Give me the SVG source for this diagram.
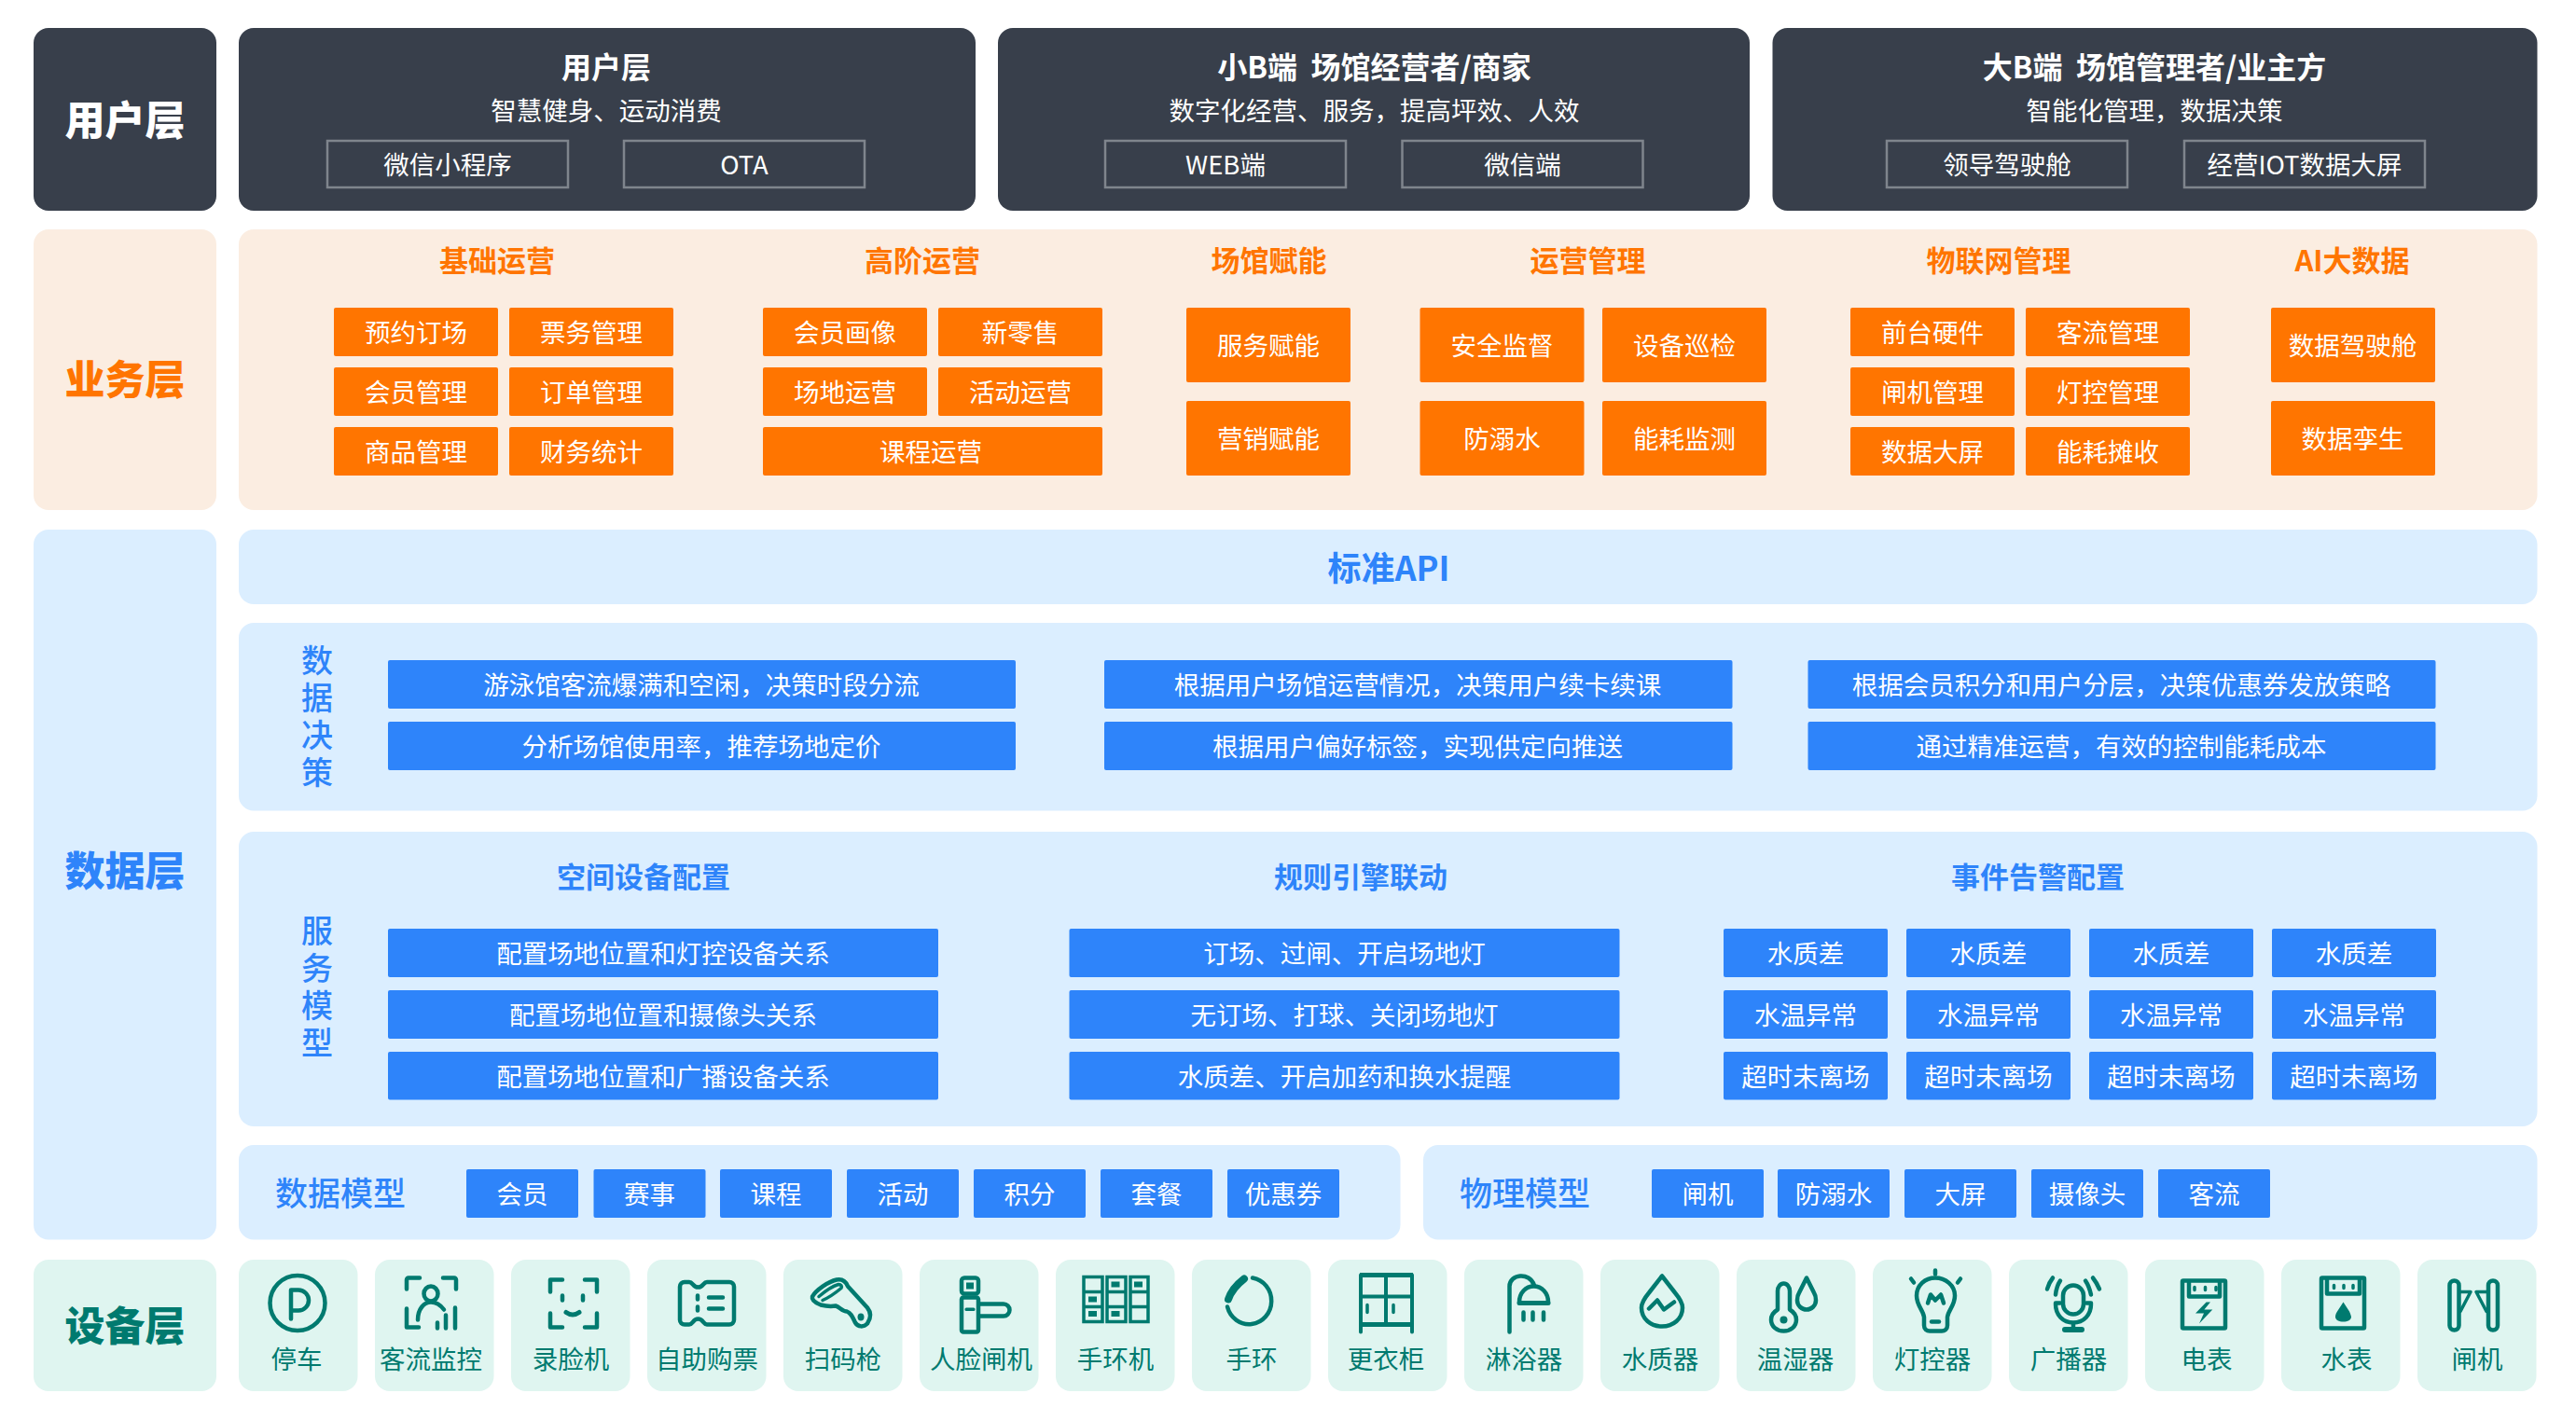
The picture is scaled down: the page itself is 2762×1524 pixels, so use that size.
<svg xmlns="http://www.w3.org/2000/svg" width="2762" height="1524" viewBox="0 0 2762 1524">
<style>
text{font-family:"Noto Sans CJK SC","Noto Sans",sans-serif;text-anchor:middle;dominant-baseline:central;font-size:27.500px}
text:not(.top):not(.ttl):not(.lbl):not(.side):not(.vert):not(.b){transform:translateY(-1.500px)}
.b{font-weight:700}
.lbl{font-size:43px;font-weight:900}
.ttl{font-size:31px;font-weight:700}
.top{font-size:32px;font-weight:700}
.w{fill:#fff}
.o{fill:#FF7500}
.bl{fill:#2E84FA}
.t{fill:#007A6F}
.dark{fill:#383F4B}
.pO{fill:#FBEDE1}
.pB{fill:#DBEEFF}
.pT{fill:#DFF5F0}
.ob{fill:#FF7500}
.bb{fill:#2E84FA}
.ub{fill:none;stroke:#7F858D;stroke-width:2.500}
.side{font-size:35px;font-weight:500}
.vert{font-size:34px;font-weight:500;writing-mode:vertical-rl;letter-spacing:6px}
.ic{fill:none;stroke:#007A6F;stroke-width:4.500;stroke-linecap:round;stroke-linejoin:round}
.icf{fill:#007A6F}
</style>
<rect width="2762" height="1524" fill="#fff"/>

<g id="user-layer">
<g id="user-label"><rect class="dark" x="36" y="30" width="196" height="196" rx="16"/><text class="lbl w" x="134" y="126">用户层</text></g>
<g id="user-c">
<rect class="dark" x="256" y="30" width="790" height="196" rx="16"/>
<text class="top w" x="650" y="70">用户层</text><text class="w" x="650" y="118">智慧健身、运动消费</text>
<rect class="ub" x="351" y="151" width="258" height="50"/><text class="w" x="480" y="176">微信小程序</text>
<rect class="ub" x="669" y="151" width="258" height="50"/><text class="w" x="798" y="176">OTA</text>
</g>
<g id="user-smallb">
<rect class="dark" x="1070" y="30" width="806" height="196" rx="16"/>
<text class="top w" x="1473.500" y="70" xml:space="preserve">小B端  场馆经营者/商家</text><text class="w" x="1473.500" y="118">数字化经营、服务，提高坪效、人效</text>
<rect class="ub" x="1185" y="151" width="258" height="50"/><text class="w" x="1314" y="176">WEB端</text>
<rect class="ub" x="1503.500" y="151" width="258" height="50"/><text class="w" x="1632.500" y="176">微信端</text>
</g>
<g id="user-bigb">
<rect class="dark" x="1900.500" y="30" width="820" height="196" rx="16"/>
<text class="top w" x="2310" y="70" xml:space="preserve">大B端  场馆管理者/业主方</text><text class="w" x="2310" y="118">智能化管理，数据决策</text>
<rect class="ub" x="2023" y="151" width="258" height="50"/><text class="w" x="2152" y="176">领导驾驶舱</text>
<rect class="ub" x="2342" y="151" width="258" height="50"/><text class="w" x="2471" y="176">经营IOT数据大屏</text>
</g>
</g>

<g id="business-layer">
<g id="biz-label"><rect class="pO" x="36" y="246" width="196" height="301" rx="16"/><text class="lbl o" x="134" y="404">业务层</text></g>
<rect class="pO" x="256" y="246" width="2464.500" height="301" rx="16"/>
<g id="biz-basic">
<text class="ttl o" x="533" y="277">基础运营</text>
<rect class="ob" x="358" y="330" width="176" height="52" rx="2"/><text class="w" x="446" y="356">预约订场</text>
<rect class="ob" x="546" y="330" width="176" height="52" rx="2"/><text class="w" x="634" y="356">票务管理</text>
<rect class="ob" x="358" y="394" width="176" height="52" rx="2"/><text class="w" x="446" y="420">会员管理</text>
<rect class="ob" x="546" y="394" width="176" height="52" rx="2"/><text class="w" x="634" y="420">订单管理</text>
<rect class="ob" x="358" y="458" width="176" height="52" rx="2"/><text class="w" x="446" y="484">商品管理</text>
<rect class="ob" x="546" y="458" width="176" height="52" rx="2"/><text class="w" x="634" y="484">财务统计</text>
</g>
<g id="biz-advanced">
<text class="ttl o" x="989" y="277">高阶运营</text>
<rect class="ob" x="818" y="330" width="176" height="52" rx="2"/><text class="w" x="906" y="356">会员画像</text>
<rect class="ob" x="1006" y="330" width="176" height="52" rx="2"/><text class="w" x="1094" y="356">新零售</text>
<rect class="ob" x="818" y="394" width="176" height="52" rx="2"/><text class="w" x="906" y="420">场地运营</text>
<rect class="ob" x="1006" y="394" width="176" height="52" rx="2"/><text class="w" x="1094" y="420">活动运营</text>
<rect class="ob" x="818" y="458" width="364" height="52" rx="2"/><text class="w" x="998" y="484">课程运营</text>
</g>
<g id="biz-venue">
<text class="ttl o" x="1360.500" y="277">场馆赋能</text>
<rect class="ob" x="1272" y="330" width="176" height="80" rx="2"/><text class="w" x="1360" y="370.500">服务赋能</text>
<rect class="ob" x="1272" y="430" width="176" height="80" rx="2"/><text class="w" x="1360" y="470">营销赋能</text>
</g>
<g id="biz-ops">
<text class="ttl o" x="1702.500" y="277">运营管理</text>
<rect class="ob" x="1522.500" y="330" width="176" height="80" rx="2"/><text class="w" x="1610.500" y="370.500">安全监督</text>
<rect class="ob" x="1718" y="330" width="176" height="80" rx="2"/><text class="w" x="1806" y="370.500">设备巡检</text>
<rect class="ob" x="1522.500" y="430" width="176" height="80" rx="2"/><text class="w" x="1610.500" y="470">防溺水</text>
<rect class="ob" x="1718" y="430" width="176" height="80" rx="2"/><text class="w" x="1806" y="470">能耗监测</text>
</g>
<g id="biz-iot">
<text class="ttl o" x="2143" y="277">物联网管理</text>
<rect class="ob" x="1984" y="330" width="176" height="52" rx="2"/><text class="w" x="2072" y="356">前台硬件</text>
<rect class="ob" x="2172" y="330" width="176" height="52" rx="2"/><text class="w" x="2260" y="356">客流管理</text>
<rect class="ob" x="1984" y="394" width="176" height="52" rx="2"/><text class="w" x="2072" y="420">闸机管理</text>
<rect class="ob" x="2172" y="394" width="176" height="52" rx="2"/><text class="w" x="2260" y="420">灯控管理</text>
<rect class="ob" x="1984" y="458" width="176" height="52" rx="2"/><text class="w" x="2072" y="484">数据大屏</text>
<rect class="ob" x="2172" y="458" width="176" height="52" rx="2"/><text class="w" x="2260" y="484">能耗摊收</text>
</g>
<g id="biz-ai">
<text class="ttl o" x="2522" y="277">AI大数据</text>
<rect class="ob" x="2435" y="330" width="176" height="80" rx="2"/><text class="w" x="2522.500" y="370.500">数据驾驶舱</text>
<rect class="ob" x="2435" y="430" width="176" height="80" rx="2"/><text class="w" x="2522.500" y="470">数据孪生</text>
</g>
</g>

<g id="data-layer">
<g id="data-label"><rect class="pB" x="36" y="568" width="196" height="761.500" rx="16"/><text class="lbl bl" x="134" y="931">数据层</text></g>
<g id="std-api"><rect class="pB" x="256" y="568" width="2464.500" height="80" rx="16"/><text class="bl b" style="font-size:36px" x="1489" y="607">标准API</text></g>
<g id="data-decision">
<rect class="pB" x="256" y="668" width="2464.500" height="201.500" rx="16"/>
<text class="vert bl" x="340" y="771">数据决策</text>
<rect class="bb" x="416" y="708" width="673" height="52" rx="2"/><text class="w" x="752" y="734">游泳馆客流爆满和空闲，决策时段分流</text>
<rect class="bb" x="416" y="774" width="673" height="52" rx="2"/><text class="w" x="752" y="800">分析场馆使用率，推荐场地定价</text>
<rect class="bb" x="1184" y="708" width="673.500" height="52" rx="2"/><text class="w" x="1520" y="734">根据用户场馆运营情况，决策用户续卡续课</text>
<rect class="bb" x="1184" y="774" width="673.500" height="52" rx="2"/><text class="w" x="1520" y="800">根据用户偏好标签，实现供定向推送</text>
<rect class="bb" x="1938.500" y="708" width="673" height="52" rx="2"/><text class="w" x="2274.500" y="734">根据会员积分和用户分层，决策优惠券发放策略</text>
<rect class="bb" x="1938.500" y="774" width="673" height="52" rx="2"/><text class="w" x="2274.500" y="800">通过精准运营，有效的控制能耗成本</text>
</g>
<g id="service-model">
<rect class="pB" x="256" y="892" width="2464.500" height="316" rx="16"/>
<text class="vert bl" x="340" y="1061">服务模型</text>
<text class="ttl bl" x="690" y="938">空间设备配置</text>
<rect class="bb" x="416" y="996" width="590" height="52" rx="2"/><text class="w" x="711" y="1022">配置场地位置和灯控设备关系</text>
<rect class="bb" x="416" y="1062" width="590" height="52" rx="2"/><text class="w" x="711" y="1088">配置场地位置和摄像头关系</text>
<rect class="bb" x="416" y="1128" width="590" height="51.500" rx="2"/><text class="w" x="711" y="1154">配置场地位置和广播设备关系</text>
<text class="ttl bl" x="1459" y="938">规则引擎联动</text>
<rect class="bb" x="1146.500" y="996" width="590" height="52" rx="2"/><text class="w" x="1441.500" y="1022">订场、过闸、开启场地灯</text>
<rect class="bb" x="1146.500" y="1062" width="590" height="52" rx="2"/><text class="w" x="1441.500" y="1088">无订场、打球、关闭场地灯</text>
<rect class="bb" x="1146.500" y="1128" width="590" height="51.500" rx="2"/><text class="w" x="1441.500" y="1154">水质差、开启加药和换水提醒</text>
<text class="ttl bl" x="2185" y="938">事件告警配置</text>
<rect class="bb" x="1848" y="996" width="176" height="52" rx="2"/><text class="w" x="1936" y="1022">水质差</text>
<rect class="bb" x="2044" y="996" width="176" height="52" rx="2"/><text class="w" x="2132" y="1022">水质差</text>
<rect class="bb" x="2240" y="996" width="176" height="52" rx="2"/><text class="w" x="2328" y="1022">水质差</text>
<rect class="bb" x="2436" y="996" width="176" height="52" rx="2"/><text class="w" x="2524" y="1022">水质差</text>
<rect class="bb" x="1848" y="1062" width="176" height="52" rx="2"/><text class="w" x="1936" y="1088">水温异常</text>
<rect class="bb" x="2044" y="1062" width="176" height="52" rx="2"/><text class="w" x="2132" y="1088">水温异常</text>
<rect class="bb" x="2240" y="1062" width="176" height="52" rx="2"/><text class="w" x="2328" y="1088">水温异常</text>
<rect class="bb" x="2436" y="1062" width="176" height="52" rx="2"/><text class="w" x="2524" y="1088">水温异常</text>
<rect class="bb" x="1848" y="1128" width="176" height="51.500" rx="2"/><text class="w" x="1936" y="1154">超时未离场</text>
<rect class="bb" x="2044" y="1128" width="176" height="51.500" rx="2"/><text class="w" x="2132" y="1154">超时未离场</text>
<rect class="bb" x="2240" y="1128" width="176" height="51.500" rx="2"/><text class="w" x="2328" y="1154">超时未离场</text>
<rect class="bb" x="2436" y="1128" width="176" height="51.500" rx="2"/><text class="w" x="2524" y="1154">超时未离场</text>
</g>
<g id="data-model">
<rect class="pB" x="256" y="1228" width="1245.500" height="101.500" rx="16"/>
<text class="side bl" x="365" y="1277">数据模型</text>
<rect class="bb" x="500" y="1254" width="120" height="52" rx="2"/><text class="w" x="560" y="1280">会员</text>
<rect class="bb" x="636.500" y="1254" width="120" height="52" rx="2"/><text class="w" x="696.500" y="1280">赛事</text>
<rect class="bb" x="772" y="1254" width="120" height="52" rx="2"/><text class="w" x="832" y="1280">课程</text>
<rect class="bb" x="908" y="1254" width="120" height="52" rx="2"/><text class="w" x="968" y="1280">活动</text>
<rect class="bb" x="1044" y="1254" width="120" height="52" rx="2"/><text class="w" x="1104" y="1280">积分</text>
<rect class="bb" x="1180" y="1254" width="120" height="52" rx="2"/><text class="w" x="1240" y="1280">套餐</text>
<rect class="bb" x="1316" y="1254" width="120" height="52" rx="2"/><text class="w" x="1376" y="1280">优惠券</text>
</g>
<g id="physical-model">
<rect class="pB" x="1526" y="1228" width="1194.500" height="101.500" rx="16"/>
<text class="side bl" x="1635" y="1277">物理模型</text>
<rect class="bb" x="1771" y="1254" width="120" height="52" rx="2"/><text class="w" x="1831" y="1280">闸机</text>
<rect class="bb" x="1906" y="1254" width="120" height="52" rx="2"/><text class="w" x="1966" y="1280">防溺水</text>
<rect class="bb" x="2042" y="1254" width="120" height="52" rx="2"/><text class="w" x="2102" y="1280">大屏</text>
<rect class="bb" x="2178" y="1254" width="120" height="52" rx="2"/><text class="w" x="2238" y="1280">摄像头</text>
<rect class="bb" x="2314" y="1254" width="120" height="52" rx="2"/><text class="w" x="2374" y="1280">客流</text>
</g>
</g>

<g id="device-layer">
<g id="dev-label"><rect class="pT" x="36" y="1351" width="196" height="141" rx="16"/><text class="lbl t" x="134" y="1419">设备层</text></g>

<g id="dev-parking"><rect class="pT" x="256" y="1351" width="127.500" height="141" rx="16"/>
<g transform="translate(1 -1.500)"><circle class="ic" cx="318" cy="1399" r="29.500"/><path class="ic" d="M311 1416V1385h8a11 11 0 0 1 0 22h-8"/></g>
<text class="t" x="318" y="1457.500">停车</text></g>

<g id="dev-flow"><rect class="pT" x="402" y="1351" width="127.500" height="141" rx="16"/>
<g transform="translate(0 -1.500)"><path class="ic" d="M436 1384v-10a2 2 0 0 1 2-2h12M475 1372h12a2 2 0 0 1 2 2v10M436 1405v20h13M469 1420v6M478 1412v14M488 1404v22"/>
<ellipse class="ic" cx="462" cy="1389" rx="7.500" ry="8"/><path class="ic" d="M448 1417C448 1405 455 1398 462 1398C468 1398 473 1402 476 1406"/></g>
<text class="t" x="462" y="1457.500">客流监控</text></g>

<g id="dev-face"><rect class="pT" x="548" y="1351" width="127.500" height="141" rx="16"/>
<g transform="translate(0 -1.500)"><path class="ic" stroke-linecap="square" d="M603 1374H590V1387M627 1374H640V1387M590 1410V1425H603M640 1410V1425H627"/>
<path class="ic" d="M603 1391v5M625 1391v5"/><path class="ic" style="stroke-width:5" d="M607 1409Q614 1414 621 1409"/></g>
<text class="t" x="612" y="1457.500">录脸机</text></g>

<g id="dev-ticket"><rect class="pT" x="694" y="1351" width="127.500" height="141" rx="16"/>
<g transform="translate(0 -1.500)"><path class="ic" d="M734 1376.500H739C743 1376.500 743 1382 748.500 1382C754 1382 754 1376.500 758 1376.500H782a5 5 0 0 1 5 5V1417a5 5 0 0 1-5 5H758C754 1422 754 1416 748.500 1416C743 1416 743 1422 739 1422H734a5 5 0 0 1-5-5V1381.500a5 5 0 0 1 5-5Z"/>
<path class="ic" d="M748 1391v4M748 1403v4M760 1393h15M760 1405h15"/></g>
<text class="t" x="758" y="1457.500">自助购票</text></g>

<g id="dev-scanner"><rect class="pT" x="840" y="1351" width="127.500" height="141" rx="16"/>
<g transform="translate(0 -1.500)"><path class="ic" d="M871 1392C875 1385 888 1376 897 1374C903 1373 907 1376 909 1381L930 1404C934 1409 934 1415 930 1421C926 1425 920 1425 917 1420C914 1414 913 1410 908 1408C903 1408 900 1403 896 1402C890 1403 884 1402 880 1401C875 1399 870 1396 871 1392Z"/>
<path class="ic" style="stroke-width:3.500" d="M878 1392C885 1386 892 1381 899 1379C902 1379 903 1381 902 1383C896 1388 889 1393 882 1396"/>
<ellipse class="icf" cx="923" cy="1414" rx="3.500" ry="4"/></g>
<text class="t" x="904" y="1457.500">扫码枪</text></g>

<g id="dev-facegate"><rect class="pT" x="986" y="1351" width="127.500" height="141" rx="16"/>
<g transform="translate(0 -1.500)"><rect class="ic" x="1031" y="1372" width="18" height="17" rx="3"/><rect class="icf" x="1036" y="1377" width="8" height="7"/>
<rect class="ic" x="1031" y="1393" width="18" height="37" rx="2"/><rect class="icf" x="1034.500" y="1404" width="11" height="3.500" rx="1.500"/>
<path class="ic" d="M1050 1400H1076a6.500 6.500 0 0 1 0 13H1050"/></g>
<text class="t" x="1052" y="1457.500">人脸闸机</text></g>

<g id="dev-bandmachine"><rect class="pT" x="1132" y="1351" width="127.500" height="141" rx="16"/>
<g transform="translate(0 -1.500)"><path class="ic" style="stroke-width:3.500;stroke-linecap:square;stroke-linejoin:miter" d="M1162 1371H1182V1419H1162ZM1187 1371H1207V1419H1187ZM1212 1371H1231V1419H1212ZM1162 1387H1182M1162 1403H1182M1187 1387H1207M1187 1403H1207M1212 1387H1231M1212 1403H1231"/>
<rect class="icf" x="1167" y="1392" width="9" height="6"/><rect class="icf" x="1167" y="1407.500" width="9" height="6"/><rect class="icf" x="1191.500" y="1376" width="9" height="6"/><rect class="icf" x="1191.500" y="1407.500" width="9" height="6"/><rect class="icf" x="1216" y="1376" width="9" height="6"/></g>
<text class="t" x="1196" y="1457.500">手环机</text></g>

<g id="dev-band"><rect class="pT" x="1278" y="1351" width="127.500" height="141" rx="16"/>
<g transform="translate(0 -1.500)"><path class="ic" d="M1343 1372A24 25 0 1 1 1316 1403"/><path class="ic" style="stroke-width:8" d="M1334 1373Q1321 1383 1317 1395"/></g>
<text class="t" x="1342" y="1457.500">手环</text></g>

<g id="dev-locker"><rect class="pT" x="1424" y="1351" width="127.500" height="141" rx="16"/>
<g transform="translate(0 -1.500)"><path class="ic" style="stroke-width:4" d="M1459 1430V1369H1514V1430M1486 1369V1422M1459 1392H1514"/><path class="ic" style="stroke-linecap:butt;stroke-width:5" d="M1458 1369H1515M1458 1422H1515"/>
<path class="ic" style="stroke-width:3.500" d="M1466 1401v8M1494 1401v8"/></g>
<text class="t" x="1486" y="1457.500">更衣柜</text></g>

<g id="dev-shower"><rect class="pT" x="1570" y="1351" width="127.500" height="141" rx="16"/>
<g transform="translate(0 -1.500)"><path class="ic" d="M1618.500 1430V1381C1618.500 1368 1640 1365 1645 1380"/><path class="ic" d="M1629 1398C1629 1388 1636 1381 1644.500 1381C1653 1381 1660 1388 1660 1398"/><path class="ic" style="stroke-width:5" d="M1629 1399H1660"/>
<path class="ic" d="M1633.500 1409v8M1643.500 1409v8M1655 1409v8"/></g>
<text class="t" x="1634" y="1457.500">淋浴器</text></g>

<g id="dev-waterquality"><rect class="pT" x="1716" y="1351" width="127.500" height="141" rx="16"/>
<g transform="translate(0 -1.500)"><path class="ic" d="M1782 1370L1768 1388C1763 1394 1760 1399 1760 1404C1760 1416 1770 1424 1782 1424C1794 1424 1804 1416 1804 1404C1804 1399 1801 1394 1796 1388Z"/>
<path class="ic" d="M1768 1405L1777 1396L1784 1406L1795 1398"/></g>
<text class="t" x="1780" y="1457.500">水质器</text></g>

<g id="dev-humid"><rect class="pT" x="1862" y="1351" width="127.500" height="141" rx="16"/>
<g transform="translate(0 -1.500)"><path class="ic" d="M1906 1406V1386a6.500 8 0 0 1 13 0V1406C1924 1409 1926 1413 1926 1417C1926 1424 1920 1429 1912.500 1429C1905 1429 1899 1424 1899 1417C1899 1413 1901 1409 1906 1406Z"/><circle class="icf" cx="1912.500" cy="1417" r="4"/>
<path class="ic" d="M1937 1372L1929 1388C1927 1391 1927 1394 1927 1396C1927 1402 1932 1406 1937 1406C1942 1406 1947 1402 1947 1396C1947 1394 1947 1391 1945 1388Z"/></g>
<text class="t" x="1925" y="1457.500">温湿器</text></g>

<g id="dev-light"><rect class="pT" x="2008" y="1351" width="127.500" height="141" rx="16"/>
<g transform="translate(0 -1.500)"><path class="ic" d="M2063 1414C2062 1406 2055 1402 2055 1391C2055 1380 2064 1372 2075 1372C2086 1372 2096 1380 2096 1391C2096 1402 2089 1406 2088 1414V1423C2088 1427 2085 1429 2082 1429H2069C2066 1429 2063 1427 2063 1423Z"/>
<path class="ic" d="M2067 1399L2070 1390L2075 1396L2081 1390L2084 1399"/><path class="ic" d="M2071 1419H2079"/><path class="ic" d="M2075 1364v4M2049 1373l3 4M2102 1373l-3 4"/></g>
<text class="t" x="2072" y="1457.500">灯控器</text></g>

<g id="dev-speaker"><rect class="pT" x="2154" y="1351" width="127.500" height="141" rx="16"/>
<g transform="translate(0 -1.500)"><rect class="ic" x="2212" y="1380" width="22" height="31" rx="11"/>
<path class="ic" d="M2204 1400C2204 1412 2212 1420 2223 1420C2234 1420 2242 1412 2242 1400M2204 1399H2209M2242 1399H2237M2223 1420V1427"/><path class="ic" style="stroke-width:6" d="M2214 1427.500H2232"/>
<path class="ic" d="M2209 1375Q2205 1381 2204 1390M2201 1372Q2197 1377 2195 1384M2236 1375Q2240 1381 2242 1390M2244 1372Q2248 1377 2251 1384"/></g>
<text class="t" x="2218" y="1457.500">广播器</text></g>

<g id="dev-power"><rect class="pT" x="2300" y="1351" width="127.500" height="141" rx="16"/>
<g transform="translate(0 -1.500)"><rect class="ic" x="2340" y="1375" width="46" height="51" rx="1"/><path class="ic" d="M2347 1376V1392H2380V1376"/><path class="ic" style="stroke-width:3.500" d="M2353 1382v3M2364.500 1382v3M2376 1382v3"/>
<polygon class="icf" points="2365.600,1398 2354,1410 2363,1410 2358,1421 2372.300,1406 2363.400,1406 2370,1398"/></g>
<text class="t" x="2366" y="1457.500">电表</text></g>

<g id="dev-watermeter"><rect class="pT" x="2446" y="1351" width="127.500" height="141" rx="16"/>
<g transform="translate(0 -1.500)"><rect class="ic" x="2489" y="1372" width="46" height="54" rx="1"/><path class="ic" d="M2495 1373V1389H2530V1373"/><path class="ic" style="stroke-width:3.500" d="M2502.500 1380v3M2513 1380v3M2523 1380v3"/>
<path class="icf" d="M2512.500 1398L2506 1408C2504 1411 2504 1413 2504 1414C2504 1417 2508 1419 2512.500 1419C2517 1419 2521 1417 2521 1414C2521 1413 2520 1410 2519 1408Z"/></g>
<text class="t" x="2516" y="1457.500">水表</text></g>

<g id="dev-gate"><rect class="pT" x="2592" y="1351" width="127.500" height="141" rx="16"/>
<g transform="translate(0 -1.500)"><rect class="ic" x="2626.500" y="1375" width="10" height="53" rx="5"/><rect class="ic" x="2668" y="1375" width="10" height="53" rx="5"/>
<path class="ic" style="stroke-width:3.500" d="M2637 1387H2649L2638 1408M2667 1387H2655L2666 1408"/></g>
<text class="t" x="2656" y="1457.500">闸机</text></g>
</g>
</svg>
